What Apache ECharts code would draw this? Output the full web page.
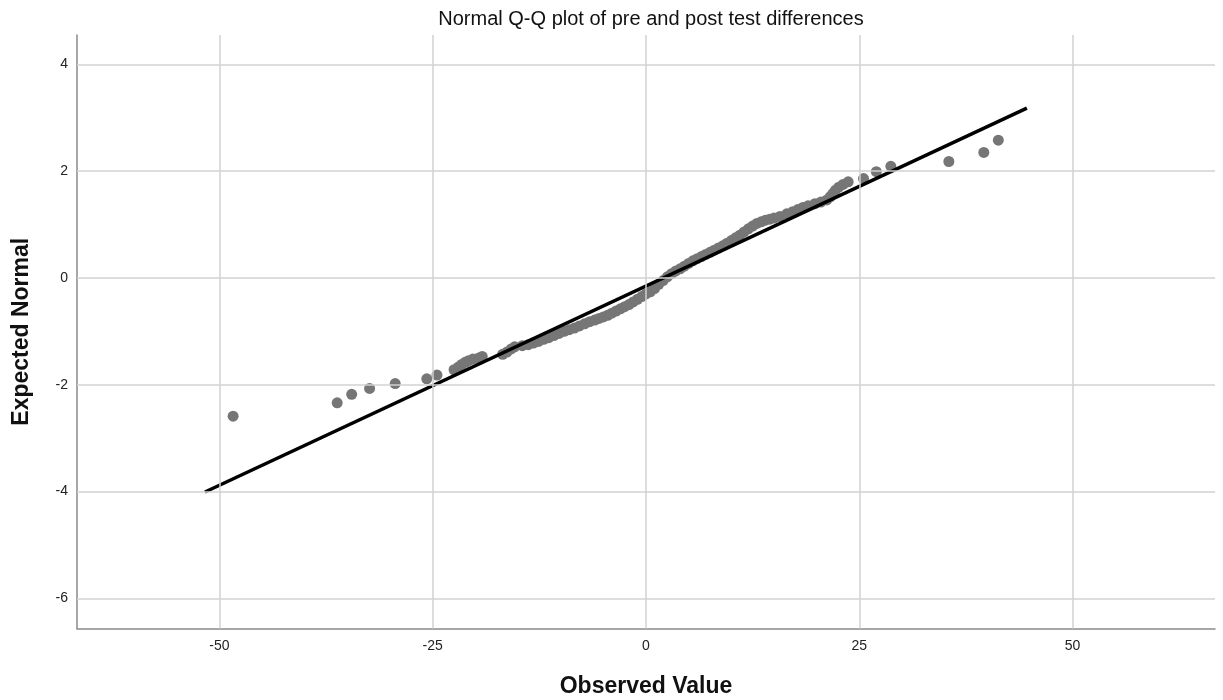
<!DOCTYPE html>
<html>
<head>
<meta charset="utf-8">
<script src="https://cdn.jsdelivr.net/npm/echarts@6/dist/echarts.min.js"></script>
<style>html,body{margin:0;padding:0;background:#fff;}#c{width:1223px;height:700px;}</style>
</head>
<body>
<div id="c"></div>
<script>
const observed = [-48.4,-36.2,-34.5,-32.4,-29.4,-25.7,-24.5,
-22.5,-22.0,-21.6,-21.2,-20.8,-20.3,-19.6,-19.2,
-16.8,-16.3,-15.8,-15.4,-14.5,-13.8,-13.2,-12.6,-12.0,-11.4,-10.8,-10.2,-9.6,-9.0,-8.4,-7.8,-7.2,-6.6,-6.0,-5.5,-5.0,-4.5,-4.0,-3.5,-3.0,-2.5,-2.0,-1.5,-1.0,-0.5,
0.0,0.5,1.0,1.5,2.0,2.5,3.0,3.5,4.0,4.5,5.0,5.5,6.0,6.5,7.0,7.5,8.0,8.5,9.0,9.5,10.0,10.5,11.0,11.5,12.0,12.5,13.0,13.5,14.0,14.5,15.0,15.7,16.5,17.2,17.8,18.4,19.0,19.8,20.5,21.2,21.6,21.9,22.2,22.6,23.1,23.7,25.5,27.0,28.7,35.5,39.6,41.3];
const expected = [-2.59,-2.34,-2.18,-2.07,-1.98,-1.89,-1.82,
-1.72,-1.67,-1.62,-1.58,-1.55,-1.52,-1.50,-1.47,
-1.43,-1.39,-1.33,-1.29,-1.27,-1.25,-1.22,-1.19,-1.15,-1.12,-1.08,-1.04,-1.00,-0.97,-0.94,-0.90,-0.86,-0.82,-0.79,-0.76,-0.73,-0.70,-0.66,-0.62,-0.58,-0.54,-0.50,-0.45,-0.40,-0.35,
-0.30,-0.26,-0.20,-0.12,-0.05,0.02,0.08,0.13,0.17,0.22,0.27,0.32,0.36,0.40,0.44,0.48,0.52,0.56,0.60,0.65,0.70,0.75,0.80,0.86,0.92,0.97,1.02,1.05,1.08,1.10,1.12,1.15,1.20,1.24,1.28,1.32,1.35,1.39,1.42,1.46,1.52,1.58,1.64,1.70,1.75,1.80,1.86,1.99,2.09,2.18,2.35,2.58];
// Reference line end points
const lineX = [-51.7, 44.65];
const lineY = [-4.01, 3.18];
// Tick labels
const xTicks = [-50, -25, 0, 25, 50];
const yTicks = [-6, -4, -2, 0, 2, 4];
const xRange = [-66.7, 66.7];
const yRange = [-6.566, 4.549];

const pts = observed.map((v, i) => [v, expected[i]]);
const linePts = lineX.map((v, i) => [v, lineY[i]]);
const gridMarks = xTicks.map(v => ({xAxis: v})).concat(yTicks.map(v => ({yAxis: v})));

const chart = echarts.init(document.getElementById('c'), null, {renderer: 'canvas'});
const font = 'Liberation Sans, Arial, sans-serif';
chart.setOption({
  animation: false,
  backgroundColor: '#ffffff',
  title: {
    text: 'Normal Q-Q plot of pre and post test differences',
    left: 646, top: 4, textAlign: 'center',
    textStyle: {fontFamily: font, fontSize: 20, fontWeight: 'normal', color: '#111'}
  },
  grid: {left: 77, right: 8, top: 35, bottom: 71.5, containLabel: false, outerBoundsMode: 'none'},
  xAxis: {
    type: 'value', min: xRange[0], max: xRange[1],
    name: 'Observed Value', nameLocation: 'middle', nameGap: 47,
    nameTextStyle: {fontFamily: font, fontSize: 23, fontWeight: 'bold', color: '#111'},
    axisLine: {show: true, onZero: false, lineStyle: {color: '#8a8a8a', width: 1.5}},
    axisTick: {show: false},
    splitLine: {show: false},
    axisLabel: {customValues: xTicks, fontFamily: font, fontSize: 14, color: '#222', margin: 11}
  },
  yAxis: {
    type: 'value', min: yRange[0], max: yRange[1],
    name: 'Expected Normal', nameLocation: 'middle', nameGap: 44,
    nameTextStyle: {fontFamily: font, fontSize: 23, fontWeight: 'bold', color: '#111'},
    axisLine: {show: true, onZero: false, lineStyle: {color: '#8a8a8a', width: 1.5}},
    axisTick: {show: false},
    splitLine: {show: false},
    axisLabel: {customValues: yTicks, fontFamily: font, fontSize: 14, color: '#222', margin: 9}
  },
  series: [
    {
      type: 'line', data: [], z: 1, silent: true,
      markLine: {
        silent: true, symbol: 'none', animation: false,
        label: {show: false},
        lineStyle: {color: '#d2d2d2', width: 1.5, type: 'solid'},
        data: gridMarks
      }
    },
    {
      type: 'scatter', data: pts, z: 3, symbolSize: 11,
      itemStyle: {color: '#767676', opacity: 1}
    },
    {
      type: 'line', data: linePts, z: 4, symbol: 'none',
      lineStyle: {color: '#000', width: 3.5}
    }
  ]
});
</script>
</body>
</html>
